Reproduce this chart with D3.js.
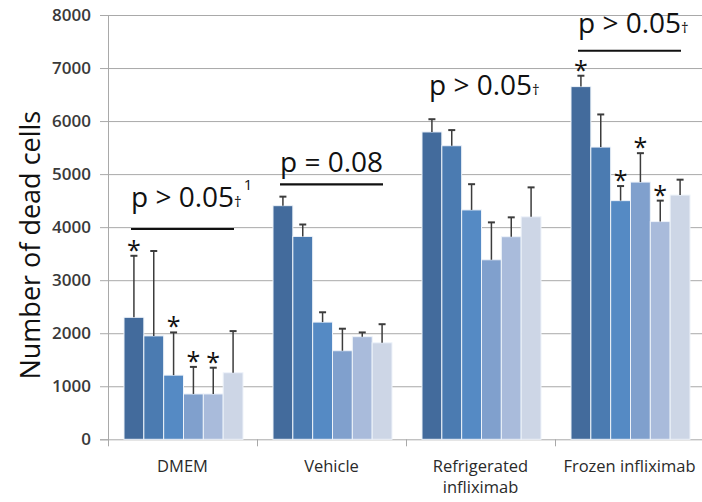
<!DOCTYPE html>
<html>
<head>
<meta charset="utf-8">
<script src="https://cdn.jsdelivr.net/npm/d3@7"></script>
<style>
  html, body { margin: 0; padding: 0; background: #fff; }
  svg { display: block; }
</style>
</head>
<body>
<svg id="chart" width="702" height="502"></svg>
<script>
// Treatment groups and their axis labels (one entry per text line)
const categories = ["DMEM", "Vehicle", "Refrigerated infliximab", "Frozen infliximab"];
const categoryLabelLines = [["DMEM"], ["Vehicle"], ["Refrigerated", "infliximab"], ["Frozen infliximab"]];

// Six bars per group
const seriesIndex = [0, 1, 2, 3, 4, 5];

// Mean number of dead cells
const dmemValues         = [2300, 1950, 1210, 855, 855, 1255];
const vehicleValues      = [4405, 3825, 2210, 1670, 1935, 1820];
const refrigeratedValues = [5795, 5535, 4325, 3385, 3820, 4195];
const frozenValues       = [6650, 5510, 4500, 4850, 4105, 4605];

// Upper error (SD) for each bar
const dmemErrors         = [1160, 1600, 805, 510, 495, 785];
const vehicleErrors      = [170, 225, 185, 415, 80, 350];
const refrigeratedErrors = [240, 295, 485, 705, 365, 555];
const frozenErrors       = [205, 615, 275, 545, 395, 290];

// Significance markers (asterisk above the error bar)
const dmemStars         = [true, false, true, true, true, false];
const vehicleStars      = [false, false, false, false, false, false];
const refrigeratedStars = [false, false, false, false, false, false];
const frozenStars       = [true, false, true, true, true, false];

// Group-level p-value notes
const pTexts      = ["p > 0.05", "p = 0.08", "p > 0.05", "p > 0.05"];
const pDaggers    = ["†", "", "†", "†"];
const pSuperNotes = ["1", "", "", ""];
const pTextLevels = [4380, 5045, 6490, 7655];   // text baseline, in data units
const pLineLevels = [3965, 4808, null, 7326];   // bracket line, in data units

const yTicks = [0, 1000, 2000, 3000, 4000, 5000, 6000, 7000, 8000];

const barColors = ["#436b9c", "#4b7bb1", "#558ac4", "#80a0cd", "#a9bbdb", "#cdd6e6"];

const values = [dmemValues, vehicleValues, refrigeratedValues, frozenValues];
const errors = [dmemErrors, vehicleErrors, refrigeratedErrors, frozenErrors];
const stars  = [dmemStars, vehicleStars, refrigeratedStars, frozenStars];

const svg = d3.select("#chart");
const plotLeft = 108, plotRight = 704, plotTop = 15, plotBottom = 439.3;

const x0 = d3.scaleBand().domain(categories).range([plotLeft, plotRight]).padding(0);
const x1 = d3.scaleBand().domain(seriesIndex).range([16, 135]).padding(0);
const y = d3.scaleLinear().domain([0, 8000]).range([plotBottom, plotTop]);

const gridColor = "#a9a9a9";
const font = "'Open Sans', 'DejaVu Sans', sans-serif";

// Left axis with tick marks
const yAxis = d3.axisLeft(y).tickValues(yTicks).tickSize(8).tickFormat(d3.format("d"));
const gy = svg.append("g").attr("transform", `translate(${plotLeft},0)`).call(yAxis);
gy.select(".domain").attr("stroke", gridColor);
gy.selectAll(".tick line").attr("stroke", gridColor);
gy.selectAll(".tick text")
  .attr("x", -17)
  .attr("fill", "#3a3a3a")
  .style("font-family", font)
  .style("font-size", "17px")
  .style("font-weight", "600");

// Horizontal gridlines
svg.append("g")
  .selectAll("line")
  .data(yTicks)
  .join("line")
  .attr("x1", plotLeft)
  .attr("x2", plotRight)
  .attr("y1", d => y(d) + 0.5)
  .attr("y2", d => y(d) + 0.5)
  .attr("stroke", gridColor)
  .attr("stroke-width", 1);

// Bottom axis: tick marks at group boundaries
const boundaries = categories.map(c => x0(c)).concat([plotRight]);
svg.append("g")
  .selectAll("line")
  .data(boundaries)
  .join("line")
  .attr("x1", d => d + 0.5)
  .attr("x2", d => d + 0.5)
  .attr("y1", plotBottom)
  .attr("y2", plotBottom + 7)
  .attr("stroke", gridColor);

// Bars, error bars, asterisks, p-value notes
categories.forEach((cat, gi) => {
  const g = svg.append("g").attr("transform", `translate(${x0(cat)},0)`);
  const rows = seriesIndex.map(i => ({ i, v: values[gi][i], e: errors[gi][i], s: stars[gi][i] }));

  g.selectAll("rect")
    .data(rows)
    .join("rect")
    .attr("x", d => x1(d.i))
    .attr("y", d => y(d.v))
    .attr("width", x1.bandwidth())
    .attr("height", d => y(0) - y(d.v))
    .attr("fill", d => barColors[d.i])
    .attr("stroke", "#eef3fa")
    .attr("stroke-width", 1);

  const cx = d => x1(d.i) + x1.bandwidth() / 2;
  g.selectAll("line.err")
    .data(rows)
    .join("line")
    .attr("class", "err")
    .attr("x1", cx).attr("x2", cx)
    .attr("y1", d => y(d.v))
    .attr("y2", d => y(d.v + d.e))
    .attr("stroke", "#3c3c3c")
    .attr("stroke-width", 1.5);

  g.selectAll("line.cap")
    .data(rows)
    .join("line")
    .attr("class", "cap")
    .attr("x1", d => cx(d) - 3.5).attr("x2", d => cx(d) + 3.5)
    .attr("y1", d => y(d.v + d.e))
    .attr("y2", d => y(d.v + d.e))
    .attr("stroke", "#3c3c3c")
    .attr("stroke-width", 2);

  g.selectAll("text.star")
    .data(rows.filter(d => d.s))
    .join("text")
    .attr("class", "star")
    .attr("x", cx)
    .attr("y", d => y(d.v + d.e) + 3)
    .attr("text-anchor", "middle")
    .style("font-family", font)
    .style("font-size", "25px")
    .attr("fill", "#111")
    .text("*");

  const t = g.append("text")
    .attr("x", 23)
    .attr("y", y(pTextLevels[gi]))
    .style("font-family", font)
    .style("font-size", "28px")
    .attr("fill", "#111");
  t.append("tspan").text(pTexts[gi]);
  if (pDaggers[gi]) {
    t.append("tspan").style("font-size", "15px").text(pDaggers[gi]);
  }
  if (pSuperNotes[gi]) {
    t.append("tspan").attr("dx", 2).attr("dy", -17).style("font-size", "15px").text(pSuperNotes[gi]);
  }

  if (pLineLevels[gi] !== null) {
    g.append("line")
      .attr("x1", 23).attr("x2", 126)
      .attr("y1", y(pLineLevels[gi]))
      .attr("y2", y(pLineLevels[gi]))
      .attr("stroke", "#111")
      .attr("stroke-width", 2.2);
  }
});

// Category labels
categories.forEach((cat, gi) => {
  const t = svg.append("text")
    .attr("x", x0(cat) + x0.bandwidth() / 2)
    .attr("y", 472)
    .attr("text-anchor", "middle")
    .style("font-family", font)
    .style("font-size", "16.5px")
    .attr("fill", "#2a2a2a");
  categoryLabelLines[gi].forEach((line, li) => {
    t.append("tspan")
      .attr("x", x0(cat) + x0.bandwidth() / 2)
      .attr("dy", li === 0 ? 0 : 21)
      .text(line);
  });
});

// Y axis title
svg.append("text")
  .attr("transform", `translate(40,${(plotTop + plotBottom) / 2 + 18}) rotate(-90)`)
  .attr("text-anchor", "middle")
  .style("font-family", font)
  .style("font-size", "27px")
  .attr("fill", "#111")
  .text("Number of dead cells");
</script>
</body>
</html>
